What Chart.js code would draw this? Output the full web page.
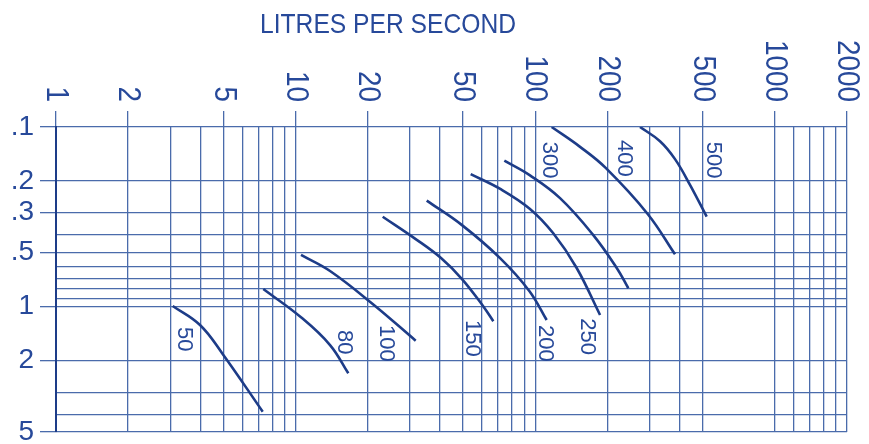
<!DOCTYPE html>
<html>
<head>
<meta charset="utf-8">
<script src="https://cdn.jsdelivr.net/npm/chart.js@4/dist/chart.umd.min.js"></script>
<style>
    html, body { margin: 0; padding: 0; background: #ffffff; }
    #wrap { width: 869px; height: 444px; }
</style>
</head>
<body>
<div id="wrap"><canvas id="flowChart"></canvas></div>
<script>
// grid lines and labelled ticks
const flowGrid = [1, 2, 3, 4, 5, 6, 7, 8, 9, 10, 20, 30, 40, 50, 60, 70, 80, 90, 100, 200, 300, 400, 500, 1000, 1200, 1400, 1600, 1800, 2000];
const flowLabels = [1, 2, 5, 10, 20, 50, 100, 200, 500, 1000, 2000];
const lossGrid = [0.1, 0.2, 0.3, 0.4, 0.5, 0.6, 0.7, 0.8, 0.9, 1, 2, 3, 4, 5];
const lossLabels = [0.1, 0.2, 0.3, 0.5, 1, 2, 5];

// pipe sizes and their curves (litres per second, loss)
const pipeSizes = [50, 80, 100, 150, 200, 250, 300, 400, 500];
const flow50 = [3.07, 3.99, 4.96, 7.29];
const loss50 = [0.993, 1.268, 1.838, 3.853];
const flow80 = [7.33, 10.53, 13.92, 16.59];
const loss80 = [0.799, 1.148, 1.639, 2.355];
const flow100 = [10.53, 13.92, 20.97, 31.7];
const loss100 = [0.516, 0.634, 0.968, 1.55];
const flow150 = [23.09, 31.7, 40.44, 49.47, 60.53, 66.83];
const loss150 = [0.316, 0.421, 0.537, 0.703, 0.993, 1.207];
const flow200 = [35.24, 49.47, 71.49, 94.45, 111.6];
const loss200 = [0.257, 0.352, 0.539, 0.819, 1.189];
const flow250 = [53.78, 71.77, 95.08, 118.9, 148.9, 186.4];
const loss250 = [0.183, 0.222, 0.286, 0.391, 0.61, 1.115];
const flow300 = [74.3, 95.08, 126.9, 174.7, 218.8, 244.6];
const loss300 = [0.154, 0.186, 0.249, 0.4, 0.61, 0.791];
const flow400 = [117.1, 153.8, 196.8, 294.6, 383.1];
const loss400 = [0.1, 0.129, 0.169, 0.305, 0.512];
const flow500 = [273.6, 331.6, 383.1, 442.4, 519.4];
const loss500 = [0.1, 0.12, 0.151, 0.21, 0.316];

// where each size label sits (top of the rotated text)
const labelFlow = [3.42, 15.92, 23.84, 54.3, 109.8, 163.9, 114.1, 234.6, 551.8];
const labelLoss = [1.3, 1.351, 1.268, 1.189, 1.268, 1.163, 0.1207, 0.1181, 0.1207];

const pipeFlows = [flow50, flow80, flow100, flow150, flow200, flow250, flow300, flow400, flow500];
const pipeLosses = [loss50, loss80, loss100, loss150, loss200, loss250, loss300, loss400, loss500];

const GRID = "#4a6bab";
const DARK = "#1d3c88";
const TEXT = "#27499a";
const SANS = '"Liberation Sans", Arial, sans-serif';
const HIDDEN = "rgba(0,0,0,0)";

function lossText(v) {
    if (!lossLabels.includes(v)) {
        return "";
    }
    return v < 1 ? String(v).replace("0.", ".") : String(v);
}

const textPlugin = {
    id: "chartText",
    afterDraw(chart) {
        const ctx = chart.ctx;
        const x = chart.scales.x;
        const y = chart.scales.y;
        ctx.save();
        ctx.fillStyle = TEXT;

        // the title is set a little condensed
        ctx.save();
        ctx.font = "28px " + SANS;
        ctx.textAlign = "center";
        ctx.textBaseline = "middle";
        ctx.translate(388, 25);
        ctx.scale(0.88, 1);
        ctx.fillText("LITRES PER SECOND", 0, 0);
        ctx.restore();

        ctx.font = "32px " + SANS;
        flowLabels.forEach((v) => {
            ctx.save();
            ctx.translate(x.getPixelForValue(v), x.top - 9);
            ctx.rotate(Math.PI / 2);
            ctx.scale(0.87, 1);
            ctx.textAlign = "right";
            ctx.textBaseline = "middle";
            ctx.fillText(String(v), 0, 0);
            ctx.restore();
        });

        ctx.font = "22px " + SANS;
        pipeSizes.forEach((size, i) => {
            ctx.save();
            ctx.translate(x.getPixelForValue(labelFlow[i]), y.getPixelForValue(labelLoss[i]));
            ctx.rotate(Math.PI / 2);
            ctx.textAlign = "left";
            ctx.textBaseline = "middle";
            ctx.fillText(String(size), 0, 0);
            ctx.restore();
        });
        ctx.restore();
    },
};

new Chart(document.getElementById("flowChart"), {
    type: "line",
    data: {
        datasets: pipeSizes.map((size, i) => ({
            label: String(size),
            data: pipeFlows[i].map((q, j) => ({ x: q, y: pipeLosses[i][j] })),
            borderColor: DARK,
            borderWidth: 2.6,
            pointRadius: 0,
            tension: 0.4,
            fill: false,
        })),
    },
    options: {
        responsive: true,
        maintainAspectRatio: false,
        animation: false,
        layout: { padding: { top: 111, right: 22, bottom: 12, left: 0 } },
        plugins: {
            legend: { display: false },
            tooltip: { enabled: false },
        },
        scales: {
            x: {
                type: "logarithmic",
                position: "top",
                min: 1,
                max: 2000,
                afterBuildTicks: (axis) => {
                    axis.ticks = flowGrid.map((v) => ({ value: v }));
                },
                ticks: { display: false },
                grid: {
                    color: GRID,
                    lineWidth: 1.3,
                    tickLength: 16,
                    tickColor: (c) => (c.tick && flowLabels.includes(c.tick.value) ? GRID : HIDDEN),
                },
                border: { display: false },
            },
            y: {
                type: "logarithmic",
                reverse: true,
                min: 0.1,
                max: 5,
                afterBuildTicks: (axis) => {
                    axis.ticks = lossGrid.map((v) => ({ value: v }));
                },
                afterFit: (axis) => {
                    axis.width = 56;
                    axis.paddingTop = 0;
                    axis.paddingBottom = 0;
                },
                ticks: {
                    autoSkip: false,
                    padding: 6,
                    color: TEXT,
                    font: { family: SANS, size: 28 },
                    callback: (v) => lossText(v),
                },
                grid: {
                    color: GRID,
                    lineWidth: 1.3,
                    tickLength: 16,
                    tickColor: (c) => (c.tick && lossLabels.includes(c.tick.value) ? GRID : HIDDEN),
                },
                border: { color: DARK, width: 2 },
            },
        },
    },
    plugins: [textPlugin],
});
</script>
</body>
</html>
